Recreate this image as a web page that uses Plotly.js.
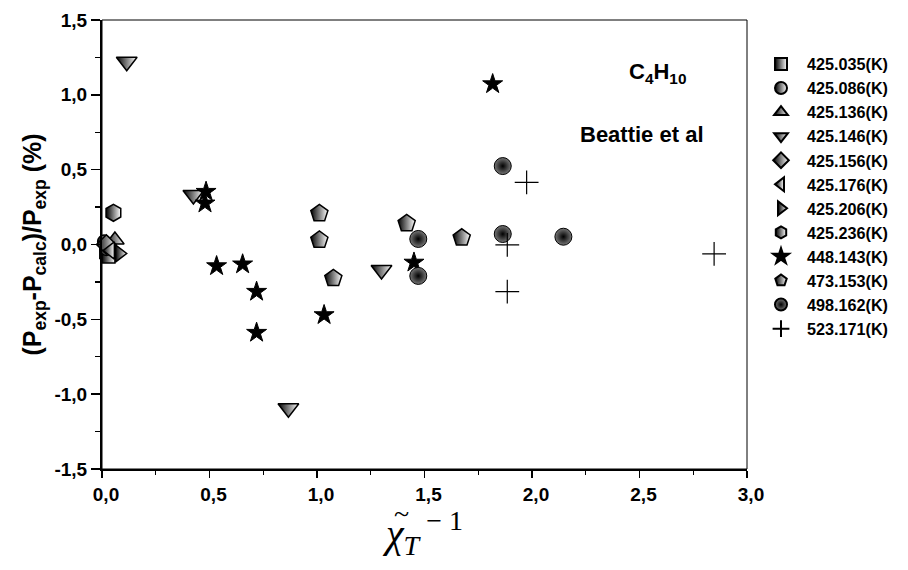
<!DOCTYPE html>
<html>
<head>
<meta charset="utf-8">
<script src="https://cdn.plot.ly/plotly-3.0.1.min.js"></script>
<style>html,body{margin:0;padding:0;background:#fff;}#chart{width:908px;height:570px;}</style>
</head>
<body>
<div id="chart"></div>
<script>
// Series labels (temperatures)
const seriesNames = ['425.035(K)','425.086(K)','425.136(K)','425.146(K)','425.156(K)','425.176(K)','425.206(K)','425.236(K)','448.143(K)','473.153(K)','498.162(K)','523.171(K)'];

// Data: x = inverse reduced compressibility, y = deviation (%)
const x425035 = [0.02, 0.03];
const y425035 = [-0.05, -0.08];
const x425086 = [0.01, 0.02];
const y425086 = [0.02, -0.03];
const x425136 = [0.06];
const y425136 = [0.03];
const x425146 = [0.115, 0.425, 0.867, 1.30];
const y425146 = [1.221, 0.331, -1.094, -0.17];
const x425156 = [0.02];
const y425156 = [0.0];
const x425176 = [0.04];
const y425176 = [-0.04];
const x425206 = [0.08];
const y425206 = [-0.06];
const x425236 = [0.053];
const y425236 = [0.212];
const x448143 = [0.484, 0.479, 0.533, 0.654, 0.719, 0.719, 1.033, 1.451, 1.817];
const y448143 = [0.353, 0.275, -0.144, -0.132, -0.315, -0.589, -0.471, -0.12, 1.072];
const x473153 = [1.011, 1.011, 1.076, 1.417, 1.673];
const y473153 = [0.208, 0.030, -0.226, 0.141, 0.045];
const x498162 = [1.471, 1.471, 1.864, 1.864, 2.146];
const y498162 = [0.037, -0.21, 0.524, 0.070, 0.052];
const x523171 = [1.975, 1.885, 1.885, 2.847];
const y523171 = [0.415, -0.003, -0.315, -0.063];

const xTickVals = [0, 0.5, 1.0, 1.5, 2.0, 2.5, 3.0];
const xTickText = ['0,0','0,5','1,0','1,5','2,0','2,5','3,0'];
const yTickVals = [-1.5, -1.0, -0.5, 0, 0.5, 1.0, 1.5];
const yTickText = ['-1,5','-1,0','-0,5','0,0','0,5','1,0','1,5'];

const xs = [x425035,x425086,x425136,x425146,x425156,x425176,x425206,x425236,x448143,x473153,x498162,x523171];
const ys = [y425035,y425086,y425136,y425146,y425156,y425176,y425206,y425236,y448143,y473153,y498162,y523171];
const symbols = ['square','circle','triangle-up','triangle-down','diamond','triangle-left','triangle-right','hexagon','star','pentagon','circle','cross-thin'];
const sizes = [13,13,16,18,15,15,15,17,15,18,17,17];

const half = {type:'horizontal', color:'#ffffff'};
const traces = seriesNames.map((name, i) => {
  let marker = {symbol: symbols[i], size: sizes[i], color: '#000000', line: {color:'#000000', width: 1.5}};
  if (i === 10) {
    marker.color = '#777777';
    marker.gradient = {type:'radial', color:'#000000'};
    marker.line = {color:'#000000', width: 1};
  } else if (i === 11) {
    marker.line = {color:'#000000', width: 1.2};
  } else if (i === 8) {
    marker.line = {color:'#000000', width: 1};
  } else {
    marker.gradient = half;
  }
  return {
    type: 'scatter', mode: 'markers', name: name,
    x: xs[i], y: ys[i], marker: marker, cliponaxis: false
  };
});

const sans = 'Liberation Sans, Arial, sans-serif';
const serif = 'Liberation Serif, Times New Roman, serif';
const layout = {
  width: 908, height: 570,
  margin: {l: 102, r: 161, t: 20, b: 101},
  paper_bgcolor: '#ffffff', plot_bgcolor: '#ffffff',
  showlegend: true,
  legend: {
    x: 1.0124, y: 0.94, xanchor: 'left', yanchor: 'top',
    font: {family: sans, size: 16.2, weight: 'bold', color: '#000'},
    itemsizing: 'constant', itemwidth: 42,
    bgcolor: 'rgba(0,0,0,0)'
  },
  xaxis: {
    range: [0, 3.0], tickvals: xTickVals, ticktext: xTickText,
    showgrid: false, zeroline: false,
    showline: true, linecolor: '#000', linewidth: 2,
    ticks: 'outside', ticklen: 7, tickwidth: 1.5, tickcolor: '#000',
    minor: {ticks: 'outside', ticklen: 4, tickwidth: 1.2, tickcolor: '#000', dtick: 0.25, showgrid: false},
    tickfont: {family: sans, size: 19, weight: 'bold', color: '#000'},
    ticklabelshift: 4,
    title: {text: '<i>χ</i><sub><i>T</i></sub><sup> − 1</sup>', font: {family: serif, size: 40, color: '#000'}, standoff: 4},
    automargin: false
  },
  yaxis: {
    range: [-1.5, 1.5], tickvals: yTickVals, ticktext: yTickText,
    showgrid: false, zeroline: false,
    showline: true, linecolor: '#000', linewidth: 2,
    ticks: 'outside', ticklen: 9, tickwidth: 1.5, tickcolor: '#000',
    minor: {ticks: 'outside', ticklen: 5, tickwidth: 1.2, tickcolor: '#000', dtick: 0.25, showgrid: false},
    tickfont: {family: sans, size: 19, weight: 'bold', color: '#000'},
    title: {text: '(P<sub>exp</sub>-P<sub>calc</sub>)/P<sub>exp</sub> (%)', font: {family: sans, size: 25, weight: 'bold', color: '#000'}, standoff: 6},
    automargin: false
  },
  shapes: [
    {type: 'rect', xref: 'paper', yref: 'paper', x0: 0, x1: 1, y0: 0, y1: 1, line: {color: '#000', width: 1}, fillcolor: 'rgba(0,0,0,0)', layer: 'below'}
  ],
  annotations: [
    {xref: 'paper', yref: 'paper', x: 0.862, y: 0.882, xanchor: 'center', yanchor: 'middle', text: 'C<sub>4</sub>H<sub>10</sub>', showarrow: false,
     font: {family: sans, size: 22, weight: 'bold', color: '#000'}},
    {xref: 'paper', yref: 'paper', x: 0.837, y: 0.746, xanchor: 'center', yanchor: 'middle', text: 'Beattie et al', showarrow: false,
     font: {family: sans, size: 22, weight: 'bold', color: '#000'}},
    {xref: 'paper', yref: 'paper', x: 0.465, y: -0.099, xanchor: 'center', yanchor: 'middle', text: '~', showarrow: false,
     font: {family: serif, size: 28, color: '#000'}}
  ]
};

Plotly.newPlot('chart', traces, layout, {displayModeBar: false, staticPlot: true});
</script>
</body>
</html>
